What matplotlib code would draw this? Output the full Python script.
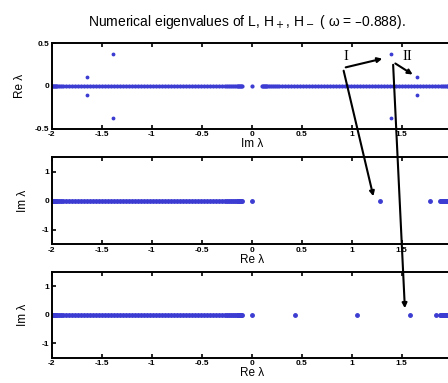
import matplotlib
matplotlib.use('Agg')
from matplotlib import pyplot as plt
from matplotlib.patches import FancyArrowPatch

plt.rcParams['font.family'] = ['Liberation Sans', 'DejaVu Sans']

W, H = 448, 383

# continuous band (left part), same for all three spectra
band_left = [-2.00, -1.99, -1.98, -1.97, -1.96, -1.95, -1.93, -1.91, -1.89, -1.86,
             -1.83, -1.80, -1.77, -1.74, -1.71, -1.68, -1.65, -1.62, -1.59, -1.56,
             -1.53, -1.50, -1.47, -1.44, -1.41, -1.38, -1.35, -1.32, -1.29, -1.26,
             -1.23, -1.20, -1.17, -1.14, -1.11, -1.08, -1.05, -1.02, -0.99, -0.96,
             -0.93, -0.90, -0.87, -0.84, -0.81, -0.78, -0.75, -0.72, -0.69, -0.66,
             -0.63, -0.60, -0.57, -0.54, -0.51, -0.48, -0.45, -0.42, -0.39, -0.36,
             -0.33, -0.30, -0.27, -0.25, -0.23, -0.21, -0.19, -0.17, -0.15, -0.14,
             -0.13, -0.12, -0.11, -0.10]
band_right_H = [1.88, 1.89, 1.90, 1.91, 1.92, 1.93, 1.94, 1.95, 1.96, 1.97, 1.98, 1.99, 2.00]

# L : eigenvalues (Im, Re)
L_im_band = band_left + [-v for v in band_left] + [0.0]
L_re_band = [0.0] * len(L_im_band)
L_im_disc = [-1.65, -1.65, -1.39, -1.39, 1.65, 1.65, 1.39, 1.39]
L_re_disc = [0.10, -0.10, 0.38, -0.38, 0.10, -0.10, 0.38, -0.38]

# H+ : real eigenvalues
Hp_re = band_left + [0.0, 1.28, 1.78] + band_right_H
# H- : real eigenvalues
Hm_re = band_left + [0.0, 0.43, 1.05, 1.58, 1.84] + band_right_H

blue = '#3c3cd2'
fig = plt.figure(figsize=(W / 100, H / 100), dpi=100)


def make_axes(top, bottom):
    ax = fig.add_axes([51.7 / W, 1 - bottom / H, 400 / W, (bottom - top) / H])
    ax.set_xlim(-2, 2)
    ax.set_xticks([-2, -1.5, -1, -0.5, 0, 0.5, 1, 1.5])
    ax.set_xticklabels(['-2', '-1.5', '-1', '-0.5', '0', '0.5', '1', '1.5'],
                       fontweight='bold')
    ax.tick_params(direction='in', top=True, right=True, length=3, width=1.2,
                   labelsize=6, pad=2)
    for s in ax.spines.values():
        s.set_linewidth(1.4)
    return ax


ax1 = make_axes(43.3, 128.7)
ax1.plot(L_im_band, L_re_band, '.', color=blue, ms=4)
ax1.plot(L_im_disc, L_re_disc, '.', color=blue, ms=3.5)
ax1.set_ylim(-0.5, 0.5)
ax1.set_yticks([-0.5, 0, 0.5])
ax1.set_yticklabels(['-0.5', '0', '0.5'], fontweight='bold')
ax1.set_xlabel('Im λ', fontsize=8.5, labelpad=0)
ax1.set_ylabel('Re λ', fontsize=8.5, labelpad=6)

ax2 = make_axes(157.3, 244)
ax2.plot(Hp_re, [0.0] * len(Hp_re), '.', color=blue, ms=5)
ax2.set_ylim(-1.5, 1.5)
ax2.set_yticks([-1, 0, 1])
ax2.set_yticklabels(['-1', '0', '1'], fontweight='bold')
ax2.set_xlabel('Re λ', fontsize=8.5, labelpad=0)
ax2.set_ylabel('Im λ', fontsize=8.5, labelpad=9)

ax3 = make_axes(271.7, 357.7)
ax3.plot(Hm_re, [0.0] * len(Hm_re), '.', color=blue, ms=5)
ax3.set_ylim(-1.5, 1.5)
ax3.set_yticks([-1, 0, 1])
ax3.set_yticklabels(['-1', '0', '1'], fontweight='bold')
ax3.set_xlabel('Re λ', fontsize=8.5, labelpad=0)
ax3.set_ylabel('Im λ', fontsize=8.5, labelpad=9)

fig.text(247 / W, 1 - 22 / H, 'Numerical eigenvalues of L, H$_+$, H$_-$ ( ω = –0.888).',
         ha='center', va='center', fontsize=10)


def fp(x, y):
    return (x / W, 1 - y / H)


def arrow(p0, p1):
    a = FancyArrowPatch(fp(*p0), fp(*p1), transform=fig.transFigure,
                        arrowstyle='-|>', mutation_scale=7, lw=1.5, color='black')
    fig.add_artist(a)


# annotation I
arrow((343, 68), (385, 58))
arrow((343, 68), (374, 199))
# annotation II
arrow((393, 62), (415, 76))
arrow((393, 62), (405, 311))

fig.text(346 / W, 1 - 57 / H, 'I', family='Liberation Serif', fontsize=10.5,
         ha='center', va='center')
fig.text(407 / W, 1 - 56 / H, 'II', family='Liberation Serif', fontsize=10.5,
         ha='center', va='center')

fig.savefig('out.png', dpi=100)
